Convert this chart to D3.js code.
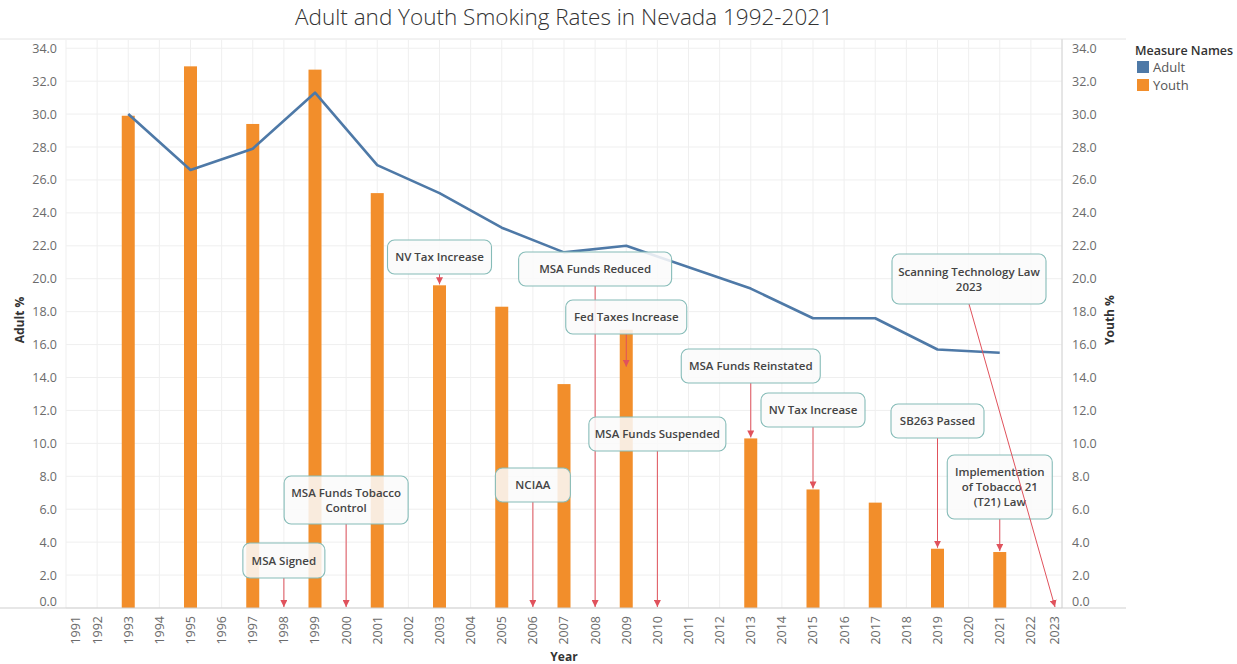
<!DOCTYPE html>
<html>
<head>
<meta charset="utf-8">
<script src="https://cdn.jsdelivr.net/npm/d3@7"></script>
<style>
  html, body { margin: 0; padding: 0; background: #fff; }
  svg { display: block; font-family: "Open Sans", "Noto Sans", sans-serif; }
</style>
</head>
<body>
<svg id="chart" width="1237" height="664"></svg>
<script>
// ---- data ----
const adultYears = [1993, 1995, 1997, 1999, 2001, 2003, 2005, 2007, 2009, 2013, 2015, 2017, 2019, 2021];
const adultRates = [30.0, 26.6, 27.9, 31.3, 26.9, 25.2, 23.1, 21.6, 22.0, 19.4, 17.6, 17.6, 15.7, 15.5];

const youthYears = [1993, 1995, 1997, 1999, 2001, 2003, 2005, 2007, 2009, 2013, 2015, 2017, 2019, 2021];
const youthRates = [29.9, 32.9, 29.4, 32.7, 25.2, 19.6, 18.3, 13.6, 16.9, 10.3, 7.2, 6.4, 3.6, 3.4];

const yearTicks = d3.range(1991, 2024);
const rateTicks = d3.range(0, 35, 2);

const measureNames = ["Adult", "Youth"];

// policy events: label lines, year and rate the arrow points to
const eventLabels = [
  ["MSA Signed"],
  ["MSA Funds Tobacco", "Control"],
  ["NV Tax Increase"],
  ["MSA Funds Reduced"],
  ["Fed Taxes Increase"],
  ["MSA Funds Suspended"],
  ["NCIAA"],
  ["MSA Funds Reinstated"],
  ["NV Tax Increase"],
  ["SB263 Passed"],
  ["Implementation", "of Tobacco 21", "(T21) Law"],
  ["Scanning Technology Law", "2023"]
];
const eventYears = [1998, 2000, 2003, 2008, 2009, 2010, 2006, 2013, 2015, 2019, 2021, 2023];
const eventRates = [0, 0, 19.6, 0, 14.6, 0, 0, 10.3, 7.2, 3.6, 3.4, 0];

// callout box layout: width, height, top edge, horizontal shift of the box
const calloutLayout = [
  { w: 82,  h: 35, top: 543, dx: 0 },
  { w: 124, h: 48, top: 476, dx: 0 },
  { w: 104, h: 34, top: 240, dx: 0 },
  { w: 153, h: 34, top: 252, dx: 0 },
  { w: 121, h: 34, top: 300, dx: 0 },
  { w: 137, h: 34, top: 417, dx: 0 },
  { w: 75,  h: 34, top: 468, dx: 0 },
  { w: 139, h: 34, top: 349, dx: 0 },
  { w: 104, h: 34, top: 393, dx: 0 },
  { w: 93,  h: 34, top: 404, dx: 0 },
  { w: 105, h: 64, top: 455, dx: 0 },
  { w: 154, h: 50, top: 254, dx: -86 }
];

// ---- layout ----
const plot = { left: 66, right: 1062, top: 40, bottom: 608 };
const colors = { Adult: "#4e79a7", Youth: "#f28e2b" };

const svg = d3.select("#chart");

const x = d3.scaleLinear().domain([1991, 2023]).range([plot.left, plot.right]);
const yLeft = d3.scaleLinear().domain([0, 34.5]).range([plot.bottom, plot.top]);
const yRight = d3.scaleLinear().domain([0, 34.5]).range([plot.bottom, plot.top]);

// title
svg.append("text")
  .attr("x", 564).attr("y", 25)
  .attr("text-anchor", "middle")
  .attr("font-size", 22.5)
  .attr("font-weight", 300)
  .attr("fill", "#333")
  .text("Adult and Youth Smoking Rates in Nevada 1992-2021");

// grid
const grid = svg.append("g");
grid.selectAll("line.h").data(rateTicks).join("line")
  .attr("x1", plot.left).attr("x2", plot.right)
  .attr("y1", d => yLeft(d)).attr("y2", d => yLeft(d))
  .attr("stroke", "#efefef").attr("stroke-width", 1);
grid.selectAll("line.v").data(yearTicks).join("line")
  .attr("x1", d => x(d)).attr("x2", d => x(d))
  .attr("y1", plot.top).attr("y2", plot.bottom)
  .attr("stroke", "#efefef").attr("stroke-width", 1);

// frame lines
svg.append("line").attr("x1", 0).attr("x2", 1126).attr("y1", plot.top - 1).attr("y2", plot.top - 1)
  .attr("stroke", "#e4e4e4");
svg.append("line").attr("x1", plot.right).attr("x2", plot.right).attr("y1", plot.top - 1).attr("y2", plot.bottom)
  .attr("stroke", "#d4d4d4");

// youth bars (right axis)
const youth = youthYears.map((yr, i) => ({ year: yr, value: youthRates[i] }));
svg.append("g").selectAll("rect").data(youth).join("rect")
  .attr("x", d => x(d.year) - 6.5)
  .attr("width", 13)
  .attr("y", d => yRight(d.value))
  .attr("height", d => yRight(0) - yRight(d.value))
  .attr("fill", colors.Youth);

// adult line (left axis)
const adult = adultYears.map((yr, i) => ({ year: yr, value: adultRates[i] }));
svg.append("path")
  .datum(adult)
  .attr("fill", "none")
  .attr("stroke", colors.Adult)
  .attr("stroke-width", 2.6)
  .attr("stroke-linejoin", "round")
  .attr("d", d3.line().x(d => x(d.year)).y(d => yLeft(d.value)));

// baseline
svg.append("line").attr("x1", 0).attr("x2", 1126).attr("y1", plot.bottom).attr("y2", plot.bottom)
  .attr("stroke", "#cfcfcf");

// axes
const fmt = d3.format(".1f");
const leftAxis = svg.append("g").attr("transform", `translate(${plot.left - 6},0)`)
  .call(d3.axisLeft(yLeft).tickValues(rateTicks).tickFormat(fmt).tickSize(0));
const rightAxis = svg.append("g").attr("transform", `translate(${plot.right + 7},0)`)
  .call(d3.axisRight(yRight).tickValues(rateTicks).tickFormat(fmt).tickSize(0));
[leftAxis, rightAxis].forEach(a => {
  a.select(".domain").remove();
  a.selectAll("text")
    .attr("font-size", 12.5)
    .attr("fill", "#6b6b6b")
    .attr("font-family", "'Open Sans', sans-serif")
    .attr("dy", d => d === 0 ? "-0.2em" : "0.32em");
});

const bottomAxis = svg.append("g").attr("transform", `translate(0,${plot.bottom})`)
  .call(d3.axisBottom(x).tickValues(yearTicks).tickFormat(d3.format("d")).tickSize(0));
bottomAxis.select(".domain").remove();
bottomAxis.selectAll(".tick")
  .attr("transform", d => `translate(${Math.min(Math.max(x(d), plot.left + 10), plot.right - 7)},0)`);
bottomAxis.selectAll("text")
  .attr("font-size", 12.5)
  .attr("fill", "#6b6b6b")
  .attr("font-family", "'Open Sans', sans-serif")
  .attr("text-anchor", "end")
  .attr("transform", "rotate(-90)")
  .attr("x", -8).attr("y", 0).attr("dy", "0.35em");

// axis titles
svg.append("text")
  .attr("transform", `translate(24,320) rotate(-90)`)
  .attr("text-anchor", "middle")
  .attr("font-size", 12).attr("font-weight", 700).attr("fill", "#333")
  .text("Adult %");
svg.append("text")
  .attr("transform", `translate(1114,320) rotate(-90)`)
  .attr("text-anchor", "middle")
  .attr("font-size", 12).attr("font-weight", 700).attr("fill", "#333")
  .text("Youth %");
svg.append("text")
  .attr("x", 564).attr("y", 661)
  .attr("text-anchor", "middle")
  .attr("font-size", 12).attr("font-weight", 700).attr("fill", "#333")
  .text("Year");

// legend
const legend = svg.append("g").attr("transform", "translate(1135,0)");
legend.append("text").attr("x", 0).attr("y", 55)
  .attr("font-size", 12.5).attr("font-weight", 600).attr("fill", "#333")
  .text("Measure Names");
measureNames.forEach((name, i) => {
  legend.append("rect").attr("x", 2).attr("y", 61 + i * 18).attr("width", 12).attr("height", 12)
    .attr("fill", colors[name]);
  legend.append("text").attr("x", 18).attr("y", 72 + i * 18)
    .attr("font-size", 13).attr("fill", "#555")
    .text(name);
});

// arrowhead marker
svg.append("defs").append("marker")
  .attr("id", "arrowhead")
  .attr("viewBox", "0 0 10 10")
  .attr("refX", 10).attr("refY", 5)
  .attr("markerWidth", 7).attr("markerHeight", 7)
  .attr("markerUnits", "userSpaceOnUse")
  .attr("orient", "auto")
  .append("path").attr("d", "M0,0 L10,5 L0,10 z").attr("fill", "#e0525c");

// callouts
const callouts = svg.append("g");
eventLabels.forEach((lines, i) => {
  const L = calloutLayout[i];
  const tx = Math.min(x(eventYears[i]), plot.right - 7);
  const ty = yRight(eventRates[i]) - 1;
  const cx = tx + L.dx;
  const g = callouts.append("g");
  g.append("line")
    .attr("x1", cx).attr("y1", L.top + L.h)
    .attr("x2", tx).attr("y2", ty)
    .attr("stroke", "#e0525c").attr("stroke-width", 1)
    .attr("marker-end", "url(#arrowhead)");
  g.append("rect")
    .attr("x", cx - L.w / 2).attr("y", L.top)
    .attr("width", L.w).attr("height", L.h)
    .attr("rx", 7).attr("ry", 7)
    .attr("fill", "#fafafa").attr("fill-opacity", 0.86)
    .attr("stroke", "#86bcb8").attr("stroke-width", 1.1);
  const lh = 15;
  const startY = L.top + L.h / 2 - (lines.length - 1) * lh / 2;
  lines.forEach((t, j) => {
    g.append("text")
      .attr("x", cx).attr("y", startY + j * lh)
      .attr("dy", "0.35em")
      .attr("text-anchor", "middle")
      .attr("font-size", 11.5).attr("font-weight", 600).attr("fill", "#444")
      .text(t);
  });
});
</script>
</body>
</html>
